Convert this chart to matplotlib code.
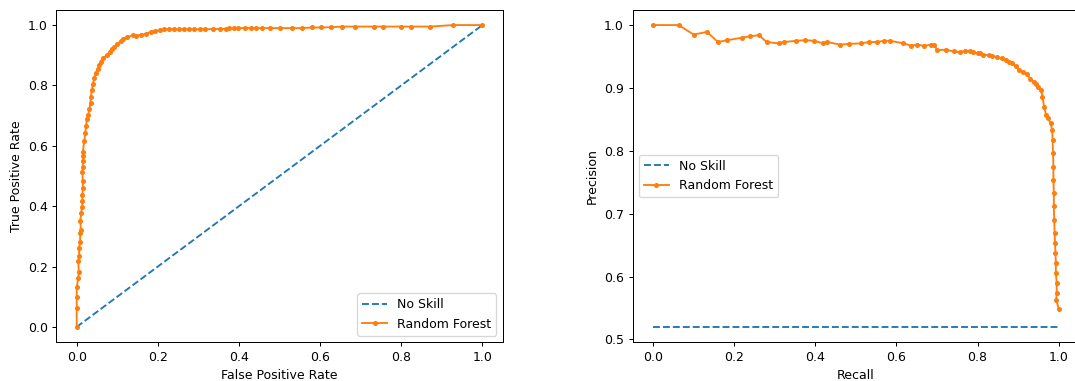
import matplotlib
matplotlib.use("Agg")
import matplotlib.pyplot as plt

# ROC curve (Random Forest)
roc_fpr = [0.0, 0.0, 0.0, 0.0, 0.004, 0.005, 0.004, 0.006, 0.006, 0.008, 0.009, 0.010,
           0.009, 0.011, 0.013, 0.014, 0.014, 0.015, 0.015, 0.014, 0.015, 0.015, 0.016,
           0.015, 0.019, 0.021, 0.023, 0.025, 0.028, 0.031, 0.034, 0.035, 0.037, 0.040,
           0.043, 0.047, 0.052, 0.056, 0.059, 0.065, 0.074, 0.081, 0.086, 0.093, 0.099,
           0.108, 0.115, 0.123, 0.138, 0.146, 0.159, 0.171, 0.183, 0.194, 0.205, 0.216,
           0.227, 0.239, 0.252, 0.265, 0.278, 0.290, 0.303, 0.316, 0.337, 0.354, 0.367,
           0.375, 0.388, 0.398, 0.415, 0.429, 0.443, 0.456, 0.477, 0.500, 0.531, 0.556,
           0.581, 0.602, 0.627, 0.655, 0.687, 0.733, 0.755, 0.800, 0.823, 0.872, 0.927,
           1.0]
roc_tpr = [0.0, 0.063, 0.098, 0.132, 0.162, 0.181, 0.217, 0.236, 0.261, 0.280, 0.311, 0.322,
           0.352, 0.377, 0.397, 0.418, 0.438, 0.460, 0.482, 0.512, 0.531, 0.550, 0.565,
           0.581, 0.617, 0.642, 0.664, 0.689, 0.701, 0.721, 0.743, 0.763, 0.785, 0.805,
           0.824, 0.840, 0.855, 0.868, 0.879, 0.890, 0.901, 0.910, 0.922, 0.928, 0.937,
           0.946, 0.953, 0.960, 0.966, 0.965, 0.968, 0.971, 0.977, 0.981, 0.983, 0.986,
           0.986, 0.986, 0.986, 0.986, 0.986, 0.986, 0.986, 0.986, 0.987, 0.987, 0.988,
           0.989, 0.989, 0.990, 0.990, 0.990, 0.990, 0.990, 0.990, 0.990, 0.990, 0.990,
           0.992, 0.992, 0.993, 0.995, 0.995, 0.995, 0.995, 0.995, 0.995, 0.995, 1.0,
           1.0]
ns_fpr = [0.0, 1.0]
ns_tpr = [0.0, 1.0]

# Precision-Recall curve (Random Forest)
pr_recall = [0.0, 0.063, 0.100, 0.133, 0.160, 0.183, 0.220, 0.238, 0.261, 0.280, 0.310,
             0.322, 0.353, 0.375, 0.396, 0.419, 0.430, 0.460, 0.484, 0.513, 0.532, 0.552,
             0.569, 0.584, 0.617, 0.637, 0.650, 0.669, 0.685, 0.692, 0.701, 0.722, 0.741,
             0.757, 0.768, 0.781, 0.789, 0.800, 0.806, 0.814, 0.827, 0.835, 0.848, 0.860,
             0.869, 0.877, 0.886, 0.894, 0.902, 0.911, 0.922, 0.929, 0.938, 0.944, 0.950,
             0.957, 0.960, 0.964, 0.969, 0.974, 0.980, 0.984, 0.985, 0.986, 0.987, 0.987,
             0.988, 0.988, 0.989, 0.990, 0.991, 0.992, 0.993, 0.993, 0.995, 0.995, 0.994,
             1.0]
pr_precision = [1.0, 1.0, 0.985, 0.989, 0.973, 0.976, 0.980, 0.982, 0.984, 0.973, 0.971,
                0.973, 0.975, 0.976, 0.975, 0.971, 0.973, 0.969, 0.970, 0.971, 0.973, 0.973,
                0.975, 0.975, 0.971, 0.967, 0.969, 0.967, 0.969, 0.969, 0.960, 0.961, 0.958,
                0.957, 0.959, 0.959, 0.957, 0.955, 0.956, 0.953, 0.952, 0.951, 0.949, 0.947,
                0.944, 0.941, 0.939, 0.935, 0.929, 0.925, 0.922, 0.915, 0.910, 0.906, 0.901,
                0.896, 0.886, 0.870, 0.857, 0.852, 0.844, 0.833, 0.817, 0.796, 0.775, 0.754,
                0.733, 0.712, 0.690, 0.669, 0.653, 0.638, 0.622, 0.606, 0.590, 0.574, 0.563,
                0.549]
ns_recall = [0.0, 1.0]
ns_precision = [0.52, 0.52]

DPI = 90
fig = plt.figure(figsize=(1075 / DPI, 381 / DPI), dpi=DPI)
ax1 = fig.add_axes([0.0525, 0.1024, 0.4151, 0.8714])
ax2 = fig.add_axes([0.5886, 0.1024, 0.4151, 0.8714])

ax1.plot(ns_fpr, ns_tpr, linestyle='--', label='No Skill')
ax1.plot(roc_fpr, roc_tpr, marker='.', label='Random Forest')
ax1.set_xlabel('False Positive Rate')
ax1.set_ylabel('True Positive Rate')
ax1.legend(loc='lower right')

ax2.plot(ns_recall, ns_precision, linestyle='--', label='No Skill')
ax2.plot(pr_recall, pr_precision, marker='.', label='Random Forest')
ax2.set_xlabel('Recall')
ax2.set_ylabel('Precision')
ax2.legend(loc='center left')

fig.savefig('out.png', dpi=DPI)
